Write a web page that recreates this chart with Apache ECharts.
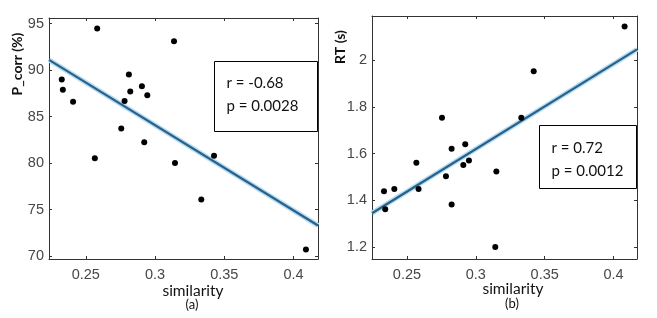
<!DOCTYPE html>
<html>
<head>
<meta charset="utf-8">
<script src="https://cdn.jsdelivr.net/npm/echarts@6/dist/echarts.min.js"></script>
<style>
html,body{margin:0;padding:0;background:#fff;}
#c{width:657px;height:318px;}
</style>
</head>
<body>
<div id="c"></div>
<script>
// ---- data (a) ----
const simA = [0.2326,0.2334,0.2408,0.2582,0.2565,0.2756,0.2780,0.2811,0.2821,0.2905,0.2944,0.2922,0.3137,0.3144,0.3426,0.3334,0.4090];
const pcorrA = [89.0,87.9,86.6,94.46,80.53,83.72,86.69,89.52,87.69,88.26,87.30,82.25,93.10,80.03,80.79,76.09,70.72];
const fitXA = [0.2234,0.4177];
const fitYA = [91.1,73.3];
// ---- data (b) ----
const simB = [0.2333,0.2342,0.2408,0.2568,0.2584,0.2754,0.2783,0.2824,0.2824,0.2909,0.2923,0.2950,0.3141,0.3149,0.3330,0.3420,0.4080];
const rtB = [1.439,1.362,1.449,1.561,1.449,1.753,1.503,1.621,1.382,1.551,1.640,1.571,1.200,1.523,1.753,1.953,2.144];
const fitXB = [0.2246,0.417];
const fitYB = [1.345,2.046];
// ---- axes / ticks ----
const xTicks = [0.25,0.3,0.35,0.4];
const xTickLabels = ['0.25','0.3','0.35','0.4'];
const yTicksA = [70,75,80,85,90,95];
const yTickLabelsA = ['70','75','80','85','90','95'];
const yTicksB = [1.2,1.4,1.6,1.8,2.0];
const yTickLabelsB = ['1.2','1.4','1.6','1.8','2'];
const statsA = ['r = -0.68','p = 0.0028'];
const statsB = ['r = 0.72','p = 0.0012'];

function fmt(ticks, labels){
  return function(v){
    for(let i=0;i<ticks.length;i++){ if(Math.abs(v-ticks[i])<1e-6) return labels[i]; }
    return '';
  };
}
const lineCol = '#333';
const labelStyle = {color:'#474747', fontFamily:'Liberation Sans, Arial, sans-serif', fontSize:14.5};
function xAx(grid, min, max, pos, show){
  return {type:'value', gridIndex:grid, position:pos, min:min, max:max, minInterval:0.05, maxInterval:0.05,
    axisLine:{show:true, onZero:false, lineStyle:{color:lineCol, width:1}},
    axisTick:{show:true, inside:true, length:3, lineStyle:{color:lineCol}},
    axisLabel:Object.assign({show:show, margin:8, formatter:fmt(xTicks,xTickLabels)}, labelStyle),
    splitLine:{show:false}};
}
function yAx(grid, min, max, iv, pos, show, ticks, labels){
  return {type:'value', gridIndex:grid, position:pos, min:min, max:max, minInterval:iv, maxInterval:iv,
    axisLine:{show:true, onZero:false, lineStyle:{color:lineCol, width:1}},
    axisTick:{show:true, inside:true, length:3, lineStyle:{color:lineCol}},
    axisLabel:Object.assign({show:show, margin:5, formatter:fmt(ticks,labels)}, labelStyle),
    splitLine:{show:false}};
}
const xMinA=0.2234, xMaxA=0.4177, yMinA=69.7, yMaxA=95.6;
const xMinB=0.2246, xMaxB=0.417, yMinB=1.149, yMaxB=2.189;

function pairs(xs, ys){ return xs.map((x,i)=>[x, ys[i]]); }

const textFont = 'Lato, "Open Sans", sans-serif';
function txt(x,y,s,size,align,rot,weight){
  const o = {type:'text', x:x, y:y, style:{text:s, font:(weight?weight+' ':'')+size+'px '+textFont, fill:'#111', align:align||'center', verticalAlign:'middle'}, z:100};
  if(rot) o.rotation = rot;
  return o;
}

const chart = echarts.init(document.getElementById('c'), null, {renderer:'canvas'});
chart.setOption({
  backgroundColor:'#fff',
  animation:false,
  grid:[
    {left:49, top:18, width:269, height:241},
    {left:372, top:16, width:265, height:243}
  ],
  xAxis:[
    xAx(0,xMinA,xMaxA,'bottom',true),
    xAx(0,xMinA,xMaxA,'top',false),
    xAx(1,xMinB,xMaxB,'bottom',true),
    xAx(1,xMinB,xMaxB,'top',false)
  ],
  yAxis:[
    yAx(0,yMinA,yMaxA,5,'left',true,yTicksA,yTickLabelsA),
    yAx(0,yMinA,yMaxA,5,'right',false,yTicksA,yTickLabelsA),
    yAx(1,yMinB,yMaxB,0.2,'left',true,yTicksB,yTickLabelsB),
    yAx(1,yMinB,yMaxB,0.2,'right',false,yTicksB,yTickLabelsB)
  ],
  series:[
    {type:'line', xAxisIndex:0, yAxisIndex:0, data:pairs(fitXA,fitYA), symbol:'none', lineStyle:{color:'#b4dcf4', width:5}, z:1, silent:true},
    {type:'line', xAxisIndex:0, yAxisIndex:0, data:pairs(fitXA,fitYA), symbol:'none', lineStyle:{color:'#2a6088', width:2.2}, z:2, silent:true},
    {type:'scatter', xAxisIndex:0, yAxisIndex:0, data:pairs(simA,pcorrA), symbol:'circle', symbolSize:6, itemStyle:{color:'#000', opacity:1}, z:5},
    {type:'line', xAxisIndex:2, yAxisIndex:2, data:pairs(fitXB,fitYB), symbol:'none', lineStyle:{color:'#b4dcf4', width:5}, z:1, silent:true},
    {type:'line', xAxisIndex:2, yAxisIndex:2, data:pairs(fitXB,fitYB), symbol:'none', lineStyle:{color:'#2a6088', width:2.2}, z:2, silent:true},
    {type:'scatter', xAxisIndex:2, yAxisIndex:2, data:pairs(simB,rtB), symbol:'circle', symbolSize:6, itemStyle:{color:'#000', opacity:1}, z:5}
  ],
  graphic:[
    {type:'rect', shape:{x:214.5, y:61.5, width:103, height:70}, style:{fill:'#fff', stroke:'#000', lineWidth:1}, z:50},
    txt(226.5, 83.5, statsA[0], 15, 'left'),
    txt(226.5, 106, statsA[1], 15, 'left'),
    {type:'rect', shape:{x:539.5, y:125.5, width:97, height:63}, style:{fill:'#fff', stroke:'#000', lineWidth:1}, z:50},
    txt(551.5, 148.5, statsB[0], 15, 'left'),
    txt(551.5, 171, statsB[1], 15, 'left'),
    txt(193, 290.5, 'similarity', 15.5),
    txt(192, 305, '(a)', 13),
    txt(513, 288.5, 'similarity', 15.5),
    txt(512, 304, '(b)', 13),
    txt(17, 64, 'P_corr (%)', 14, 'center', Math.PI/2, 'bold'),
    txt(340, 47, 'RT (s)', 14, 'center', Math.PI/2, 'bold')
  ]
});
</script>
</body>
</html>
